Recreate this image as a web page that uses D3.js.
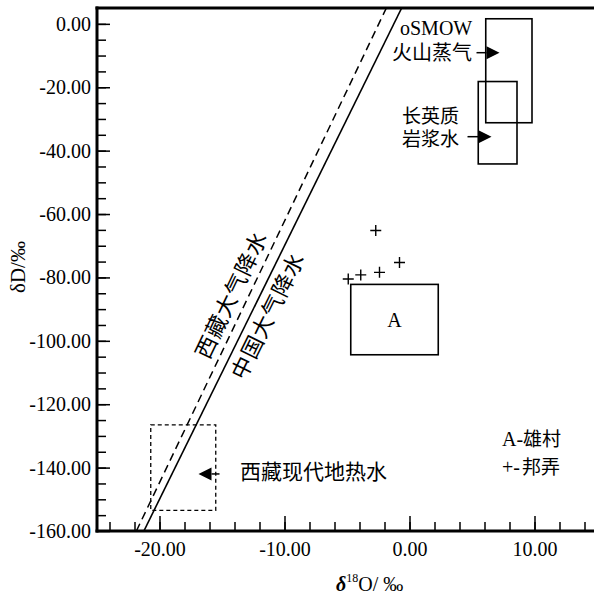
<!DOCTYPE html>
<html><head><meta charset="utf-8">
<script src="https://cdn.jsdelivr.net/npm/d3@7"></script>
<style>
body{margin:0;background:#fff;}
text{font-family:"Liberation Serif","Times New Roman","Noto Sans CJK SC",serif;fill:#000;}
.cjk{font-family:"Noto Sans CJK SC","Liberation Serif",sans-serif;}
</style>
</head><body>
<svg id="c" width="594" height="598"></svg>
<script>
// ---- data ----
const xMajor = [-20, -10, 0, 10];
const xMinor = d3.range(-24, 15, 2);
const yMajor = [-160, -140, -120, -100, -80, -60, -40, -20, 0];
const yMinor = d3.range(-155, 5, 5);
const chinaMWL = [[-21.25, -160], [-0.625, 5]];   // 中国大气降水线
const tibetMWL = [[-21.85, -160], [-1.85, 5]];    // 西藏大气降水线
const boxNames = ["火山蒸气", "长英质岩浆水", "A", "西藏现代地热水"];
const boxX0 = [6.1, 5.5, -4.7, -20.7];
const boxX1 = [9.8, 8.6, 2.3, -15.5];
const boxY0 = [-31.2, -44.2, -104.4, -153.5];
const boxY1 = [1.6, -18.2, -82.2, -126.5];
const bangnongX = [-2.7, -4.9, -3.9, -2.4, -0.8];
const bangnongY = [-65.2, -80.5, -79.2, -78.4, -75.3];
const arrowTail = [[5.36, -9.1], [4.64, -35.6], [-15.2, -142]];
const arrowTip  = [[7.2, -9.1], [6.56, -35.6], [-16.88, -142]];

// ---- layout ----
const svg = d3.select("#c");
const x = d3.scaleLinear().domain([-25, 15]).range([97, 597]);
const y = d3.scaleLinear().domain([-160, 5]).range([531, 8]);

svg.append("defs").append("clipPath").attr("id","clip")
  .append("rect").attr("x",97).attr("y",8).attr("width",500).attr("height",523);

const fmt = d => d.toFixed(2);

// x axis
const gx = svg.append("g").attr("transform","translate(0,531)");
gx.call(d3.axisBottom(x).tickValues(xMinor).tickSize(-9).tickFormat(""));
gx.select(".domain").remove();
const gx2 = svg.append("g").attr("transform","translate(0,531)");
gx2.call(d3.axisBottom(x).tickValues(xMajor).tickSize(-15).tickPadding(11).tickFormat(fmt));
gx2.select(".domain").remove();
// y axis
const gy = svg.append("g").attr("transform","translate(97,0)");
gy.call(d3.axisLeft(y).tickValues(yMinor).tickSize(-9).tickFormat(""));
gy.select(".domain").remove();
const gy2 = svg.append("g").attr("transform","translate(97,0)");
gy2.call(d3.axisLeft(y).tickValues(yMajor).tickSize(-13).tickPadding(6).tickFormat(fmt));
gy2.select(".domain").remove();
svg.selectAll(".tick line").attr("stroke","#000").attr("stroke-width",1.5);
svg.selectAll(".tick text").attr("font-size",20).attr("font-family","Liberation Serif");

// frame lines
svg.append("line").attr("x1",97).attr("x2",97).attr("y1",6.5).attr("y2",532.5).attr("stroke","#000").attr("stroke-width",3);
svg.append("line").attr("x1",95.5).attr("x2",594).attr("y1",531).attr("y2",531).attr("stroke","#000").attr("stroke-width",3);
svg.append("line").attr("x1",95.5).attr("x2",594).attr("y1",8).attr("y2",8).attr("stroke","#000").attr("stroke-width",3);

// meteoric water lines
const lineGen = d3.line().x(d=>x(d[0])).y(d=>y(d[1]));
const plot = svg.append("g").attr("clip-path","url(#clip)");
plot.append("path").attr("d",lineGen(chinaMWL)).attr("fill","none").attr("stroke","#000").attr("stroke-width",1.6);
plot.append("path").attr("d",lineGen(tibetMWL)).attr("fill","none").attr("stroke","#000").attr("stroke-width",1.5).attr("stroke-dasharray","8,5");

// boxes
const boxDashed = [false, false, false, true];
boxNames.forEach((n,i)=>{
  plot.append("rect")
    .attr("x", x(boxX0[i])).attr("y", y(boxY1[i]))
    .attr("width", x(boxX1[i]) - x(boxX0[i]))
    .attr("height", y(boxY0[i]) - y(boxY1[i]))
    .attr("fill","none").attr("stroke","#000")
    .attr("stroke-width", boxDashed[i] ? 1.3 : 1.6)
    .attr("stroke-dasharray", boxDashed[i] ? "4,3" : null);
});
// "A" label in box
svg.append("text").attr("x", x((boxX0[2]+boxX1[2])/2)).attr("y", y((boxY0[2]+boxY1[2])/2))
  .attr("text-anchor","middle").attr("dominant-baseline","central").attr("font-size",20).text("A");

// Bangnong points (+)
bangnongX.forEach((v,i)=>{
  const cx = x(v), cy = y(bangnongY[i]);
  plot.append("path").attr("d",`M${cx-5.5},${cy}H${cx+5.5}M${cx},${cy-5.5}V${cy+5.5}`)
    .attr("stroke","#000").attr("stroke-width",1.4).attr("fill","none");
});

// arrows
arrowTail.forEach((t,i)=>{
  const x0 = x(t[0]), y0 = y(t[1]), x1 = x(arrowTip[i][0]), y1 = y(arrowTip[i][1]);
  const dir = Math.sign(x1 - x0), L = 13, H = 6.5;
  svg.append("line").attr("x1",x0).attr("y1",y0).attr("x2",x1 - dir*L).attr("y2",y1)
    .attr("stroke","#000").attr("stroke-width",1.5);
  svg.append("path").attr("d",`M${x1},${y1}L${x1-dir*L},${y1-H}L${x1-dir*L},${y1+H}Z`).attr("fill","#000");
});

// text labels
const t1 = svg.append("text").attr("x",400).attr("y",35).attr("font-size",20);
t1.append("tspan").attr("x",400).text("oSMOW");
t1.append("tspan").attr("class","cjk").attr("x",392).attr("dy",25).text("火山蒸气");
const t2 = svg.append("text").attr("class","cjk").attr("x",402).attr("y",123).attr("font-size",19);
t2.append("tspan").attr("x",402).text("长英质");
t2.append("tspan").attr("x",402).attr("dy",23).text("岩浆水");
svg.append("text").attr("class","cjk").attr("x",240).attr("y",479).attr("font-size",21).text("西藏现代地热水");

// rotated line labels
function angleOf(l){ return Math.atan2(y(l[1][1])-y(l[0][1]), x(l[1][0])-x(l[0][0]))*180/Math.PI; }
svg.append("text").attr("class","cjk")
  .attr("transform",`translate(${x(-14.4)},${y(-85.2)}) rotate(${angleOf(tibetMWL)})`)
  .attr("text-anchor","middle").attr("dominant-baseline","central").attr("font-size",22)
  .attr("letter-spacing",1).text("西藏大气降水");
svg.append("text").attr("class","cjk")
  .attr("transform",`translate(${x(-11.48)},${y(-91.8)}) rotate(${angleOf(chinaMWL)})`)
  .attr("text-anchor","middle").attr("dominant-baseline","central").attr("font-size",22)
  .attr("letter-spacing",1).text("中国大气降水");

// legend
const lg1 = svg.append("text").attr("x",502).attr("y",446).attr("font-size",20);
lg1.append("tspan").text("A-");
lg1.append("tspan").attr("class","cjk").attr("font-size",19).text("雄村");
const lg2 = svg.append("text").attr("x",502).attr("y",474).attr("font-size",20);
lg2.append("tspan").text("+-");
lg2.append("tspan").attr("class","cjk").attr("font-size",19).attr("dx",2).text("邦弄");

// axis titles
const xl = svg.append("text").attr("x",336).attr("y",591).attr("font-size",20);
xl.append("tspan").attr("font-style","italic").attr("font-weight","bold").text("δ");
xl.append("tspan").attr("font-size",12).attr("dy",-9).text("18");
xl.append("tspan").attr("dy",9).text("O/ ‰");
svg.append("text").attr("transform","translate(25,267) rotate(-90)")
  .attr("text-anchor","middle").attr("font-size",21).text("δD/‰");
</script>
</body></html>
